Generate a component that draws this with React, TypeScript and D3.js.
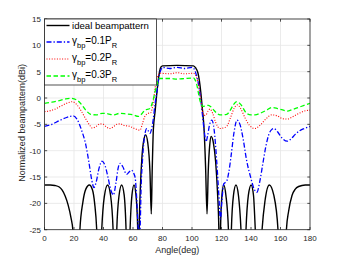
import React from 'react'
import { scaleLinear, line, curveMonotoneX } from 'd3'

type Pt = [number, number]

// angle (deg) vs normalized beampattern (dBi)
const ideal: Pt[] = [
  [0, -16.5], [4, -16.5], [7, -16.6], [10, -16.9], [12, -17.5], [14, -18.6], [16, -20.3], [18, -22.8], [19.2, -25], [20, -40],
  [22, -40], [24, -25], [26, -19.8], [28, -17.3], [30.4, -16.5], [32.5, -17.4], [34, -20], [35.4, -25], [37, -40],
  [38.8, -25], [40.5, -18.8], [42.8, -16.5], [44.8, -18.5], [46.5, -25], [47.8, -40],
  [49, -25], [50.5, -18.6], [52.3, -16.5], [54, -18.4], [55.3, -25], [56.6, -40],
  [58, -25], [59.3, -18.4], [60.7, -16.5], [62, -18.4], [63.2, -25], [63.6, -40],
  [64.2, -25], [65, -17], [66, -11.5], [67.3, -8], [68.6, -7], [70, -8.5], [71.5, -14], [72.4, -22],
  [73, -14], [73.8, -6], [75, -2.5], [76, 0.5], [77, 3], [78, 5], [79, 5.9], [80, 6.1], [90, 6.2], [101, 6.1],
  [102.5, 5.7], [104, 4.8], [105, 3.3], [106, 1], [107, -2], [108.2, -6], [109.2, -13], [110.2, -22],
  [111, -14], [112, -9], [113, -7.3], [114.5, -8.5], [116, -12], [117.3, -18], [118.2, -25], [118.6, -40],
  [119.3, -25], [120.3, -18.5], [121.5, -16.5], [123, -18.5], [124.7, -25], [125.7, -40],
  [126.7, -25], [128.1, -18.5], [129.8, -16.5], [131.5, -18.5], [133.2, -25], [135, -40],
  [136.6, -25], [138.2, -18.5], [140.1, -16.5], [141.7, -18.5], [142.9, -25], [145, -40],
  [147.5, -25], [149.5, -19.5], [152.4, -16.5], [155.5, -18.5], [158.3, -25], [160, -40],
  [163, -40], [164, -25], [165.5, -21.5], [167.8, -18.5], [170, -17.3], [172.3, -16.8], [176.8, -16.5], [180, -16.5],
]

const bp01: Pt[] = [
  [0, -5.4], [5, -5], [10, -4.3], [15, -3.7], [19.5, -3.4], [22, -4], [25, -6], [28, -8.9], [30, -12], [32, -15.5],
  [33.5, -17], [35, -16], [37, -13.3], [39, -12], [41, -12.8], [43, -15], [45, -17.5], [46.7, -18.4], [48.5, -16],
  [50, -13.2], [51.2, -12.4], [53, -13], [55.7, -14.5], [57.5, -14], [59, -13.7], [60.5, -14.3], [61.5, -15.2],
  [62.5, -19], [63.6, -25], [64.2, -27], [64.8, -25], [65.5, -17], [66.5, -11.5], [68, -7], [69.3, -5.8], [70.5, -6.3],
  [71.5, -6.7], [72.5, -6], [73.8, -3.9], [75, -1], [76, 0.8], [77, 2.8], [78, 4.5], [79, 5.4], [80, 5.8], [85, 5.6],
  [90, 5.8], [95, 5.6], [100, 5.8], [101.5, 5.5], [103, 4.3], [104.5, 2.5], [106, -0.5], [107, -3], [108.3, -6.3],
  [109.5, -8.3], [110.5, -7.3], [111.8, -5.2], [113.4, -4.2], [115, -6], [116.7, -11.8], [118, -17.5], [119.3, -23],
  [120.3, -19.5], [121.5, -16.3], [123.5, -15.8], [125, -14], [126.5, -11], [128.5, -6.5], [130.5, -4.2], [132.5, -5],
  [134.5, -7.5], [137, -11.8], [140, -15.3], [142, -17.2], [144, -17.9], [146, -15.8], [148, -12.5], [150, -9.3],
  [152, -7], [154, -6], [155.5, -5.8], [158, -6.4], [161, -7.6], [164.5, -8.2], [167, -7.8], [170, -6.9], [173, -6.2],
  [176, -5.8], [180, -5.4],
]

const bp02: Pt[] = [
  [0, -2.6], [4, -2.4], [8, -2], [12, -1.4], [16, -0.9], [18.9, -0.7], [22, -1.3], [25, -2.5], [28, -4], [31, -5.3],
  [32.4, -5.7], [35, -5.4], [37.6, -4.9], [40, -5], [42, -5.5], [44.4, -5.8], [47, -5.4], [49, -5], [51.2, -4.9],
  [54, -5.2], [58, -5.4], [61, -5.8], [64.7, -6.1], [66.5, -4.8], [68, -3.5], [70.4, -2.9], [72, -2.8], [73, -2],
  [74, -0.3], [75, 2], [76, 3.5], [77, 4.3], [78, 4.7], [85, 4.6], [90, 4.8], [95, 4.6], [101, 4.7], [102, 4.5],
  [103, 4], [104, 3], [105, 1.5], [106, -0.3], [107, -2.2], [108, -3.3], [109.5, -3.2], [111, -2.4], [112.2, -2.1],
  [114, -2.9], [116, -4.6], [119, -5.8], [121, -5.7], [123.5, -5.4], [126, -3.8], [128.5, -2], [130.7, -1.3], [133, -2],
  [136, -3.8], [139, -5.2], [142.7, -5.8], [146, -5.2], [150, -4], [154, -3.2], [158, -3.4], [161, -3.9], [164.6, -4],
  [168, -3.6], [172, -3], [176, -2.5], [180, -2.3],
]

const bp03: Pt[] = [
  [0, -1], [5, -0.8], [10, -0.5], [14, -0.2], [17.8, -0.05], [22, -0.4], [25, -1.2], [28, -2.3], [31.3, -3.1], [35, -3.2],
  [39.2, -2.9], [43, -3], [46.7, -3.2], [51.2, -2.9], [55, -3], [60.2, -3.2], [63.6, -3.5], [66, -3], [68, -2.3],
  [71.5, -2], [73, -1], [74, 0], [75, 1.2], [76, 2.4], [77, 3.2], [78, 3.7], [85, 3.7], [90, 3.6], [95, 3.7], [101, 3.8],
  [102, 3.5], [103, 2.8], [104, 1.5], [105, 0], [106, -1], [107.5, -1.6], [109, -1.5], [111, -1.4], [112.5, -1.6],
  [114.5, -2.2], [116.5, -2.8], [119, -3.2], [123.5, -3.1], [126, -2.3], [128, -1.3], [130.3, -0.7], [133, -1.2],
  [137, -2.9], [140, -3.2], [142.7, -3.2], [147, -2.8], [150.6, -2.3], [154, -1.8], [158, -2], [162, -2.3], [164.6, -2.5],
  [168, -2.2], [172, -1.8], [176, -1.4], [180, -1],
]

const xTicks = [0, 20, 40, 60, 80, 100, 120, 140, 160, 180]
const yTicks = [-25, -20, -15, -10, -5, 0, 5, 10, 15]
const gammaLabels = ['0.1', '0.2', '0.3']

const width = 343
const height = 258
const margin = { top: 19, right: 33, bottom: 28.3, left: 44.5 }
const font = 'Liberation Sans, Arial, Helvetica, sans-serif'

const App = () => {
  const x = scaleLinear().domain([0, 180]).range([margin.left, width - margin.right])
  const y = scaleLinear().domain([-25, 15]).range([height - margin.bottom, margin.top])
  const path = line<Pt>().x(d => x(d[0])).y(d => y(d[1])).curve(curveMonotoneX)

  const x0 = x(0), x1 = x(180), y0 = y(-25), y1 = y(15)
  const axisColor = '#262626'

  const series = [
    { data: ideal, color: '#000000', dash: undefined, w: 1.4 },
    { data: bp01, color: '#0000ff', dash: '5,2,1.3,2', w: 1.3 },
    { data: bp02, color: '#ff0000', dash: '1,1.6', w: 1.1 },
    { data: bp03, color: '#00ff00', dash: '4.5,2.5', w: 1.3 },
  ]

  const legX = x0, legY = y1, legW = 112, legH = 66
  const rows = [25.5, 42, 59, 76]

  return (
    <svg width={width} height={height} style={{ position: 'absolute', left: 0, top: 0 }} fontFamily={font}>
      <rect width={width} height={height} fill="#ffffff" />
      <defs>
        <clipPath id="plotArea">
          <rect x={x0} y={y1} width={x1 - x0} height={y0 - y1} />
        </clipPath>
      </defs>
      {/* grid */}
      {xTicks.map(t => (
        <line key={'gx' + t} x1={x(t)} x2={x(t)} y1={y1} y2={y0} stroke="#e6e6e6" strokeWidth={0.8} />
      ))}
      {yTicks.map(t => (
        <line key={'gy' + t} x1={x0} x2={x1} y1={y(t)} y2={y(t)} stroke="#e6e6e6" strokeWidth={0.8} />
      ))}
      <g clipPath="url(#plotArea)">
        {series.map((s, i) => (
          <path key={i} d={path(s.data) || ''} fill="none" stroke={s.color} strokeWidth={s.w}
            strokeDasharray={s.dash} strokeLinejoin="round" />
        ))}
      </g>
      {/* axes box + ticks */}
      <rect x={x0} y={y1} width={x1 - x0} height={y0 - y1} fill="none" stroke={axisColor} strokeWidth={0.8} />
      {xTicks.map(t => (
        <g key={'tx' + t}>
          <line x1={x(t)} x2={x(t)} y1={y0} y2={y0 - 2.7} stroke={axisColor} strokeWidth={0.8} />
          <line x1={x(t)} x2={x(t)} y1={y1} y2={y1 + 2.7} stroke={axisColor} strokeWidth={0.8} />
          <text x={x(t)} y={y0 + 11.5} fontSize={8} textAnchor="middle" fill={axisColor}>{t}</text>
        </g>
      ))}
      {yTicks.map(t => (
        <g key={'ty' + t}>
          <line x1={x0} x2={x0 + 2.7} y1={y(t)} y2={y(t)} stroke={axisColor} strokeWidth={0.8} />
          <line x1={x1} x2={x1 - 2.7} y1={y(t)} y2={y(t)} stroke={axisColor} strokeWidth={0.8} />
          <text x={x0 - 3.5} y={y(t) + 3} fontSize={8} textAnchor="end" fill={axisColor}>{t}</text>
        </g>
      ))}
      <text x={(x0 + x1) / 2} y={253} fontSize={9} textAnchor="middle" fill={axisColor}>Angle(deg)</text>
      <text transform={`translate(25,${(y0 + y1) / 2 - 1.5}) rotate(-90)`} fontSize={9} textAnchor="middle" fill={axisColor}>
        Normalized beampattern(dBi)
      </text>
      {/* legend */}
      <rect x={legX} y={legY} width={legW} height={legH} fill="#ffffff" stroke={axisColor} strokeWidth={0.8} />
      {series.map((s, i) => (
        <line key={'ll' + i} x1={legX + 2} x2={legX + 25} y1={rows[i]} y2={rows[i]} stroke={s.color}
          strokeWidth={s.w} strokeDasharray={s.dash} />
      ))}
      <text x={legX + 27.5} y={rows[0] + 3.5} fontSize={9.6} fill="#000">ideal beampattern</text>
      {gammaLabels.map((g, i) => (
        <text key={'lt' + i} x={legX + 27.5} y={rows[i + 1] + 2} fontSize={10} fill="#000">
          γ<tspan fontSize={7.5} dy={3.5}>bp</tspan><tspan dy={-3.5}>={g}P</tspan><tspan fontSize={7.5} dy={3.5}>R</tspan>
        </text>
      ))}
    </svg>
  )
}

export default App
